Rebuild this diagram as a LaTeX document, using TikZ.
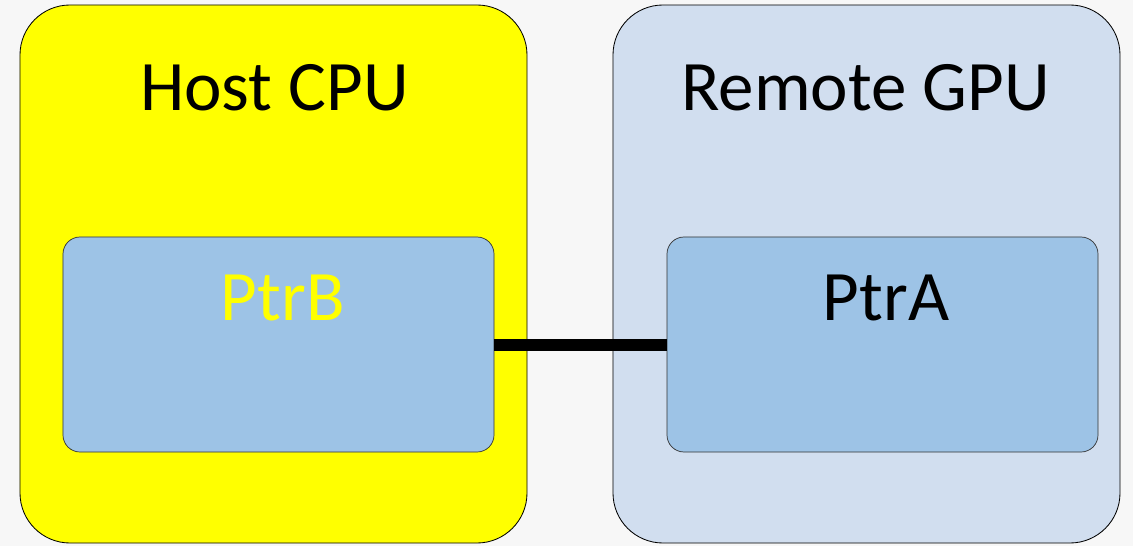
\documentclass[tikz,border=0pt]{standalone}
\usepackage{fontspec}
\setmainfont{Carlito}
\usetikzlibrary{positioning}

\definecolor{pagegrey}{HTML}{F7F7F7}
\definecolor{hostyellow}{HTML}{FFFF00}
\definecolor{remoteblue}{HTML}{D1DEEF}
\definecolor{ptrblue}{HTML}{9DC3E6}

\tikzset{
    outerbox/.style={draw=black, line width=0.6pt, rounded corners=12.5mm,
        minimum width=126.75mm, minimum height=134.5mm, inner sep=0pt},
    ptrbox/.style={draw=black!80, line width=0.5pt, fill=ptrblue, rounded corners=4.25mm,
        minimum width=107.75mm, minimum height=53.75mm, inner sep=0pt},
    bigtext/.style={anchor=base, inner sep=0pt, font=\fontsize{50.5}{60}\selectfont}
}

\begin{document}
\begin{tikzpicture}[x=0.25mm, y=-0.25mm]
            % page
            \fill[pagegrey] (0,0) rectangle (1133,546);
            \useasboundingbox (0,0) rectangle (1133,546);

            % machines
            \node[outerbox, fill=hostyellow] (host) at (273.5,274) {};
            \node[outerbox, fill=remoteblue] (remote) at (866.5,274) {};
            \node[bigtext] (hostlabel) at (274.5,111) {Host CPU};
            \node[bigtext] (remotelabel) at (865.5,111) {Remote GPU};

            % pointers
            \node[ptrbox] (ptrb) at (278.5,344.5) {};
            \node[ptrbox] (ptra) at (882.5,344.5) {};
            \node[bigtext, text=hostyellow] (ptrblabel) at (283,320) {PtrB};
            \node[bigtext] (ptralabel) at (886,320) {PtrA};

            % link
            \draw[line width=3mm] (ptrb.east) -- (ptra.west);
\end{tikzpicture}
\end{document}
